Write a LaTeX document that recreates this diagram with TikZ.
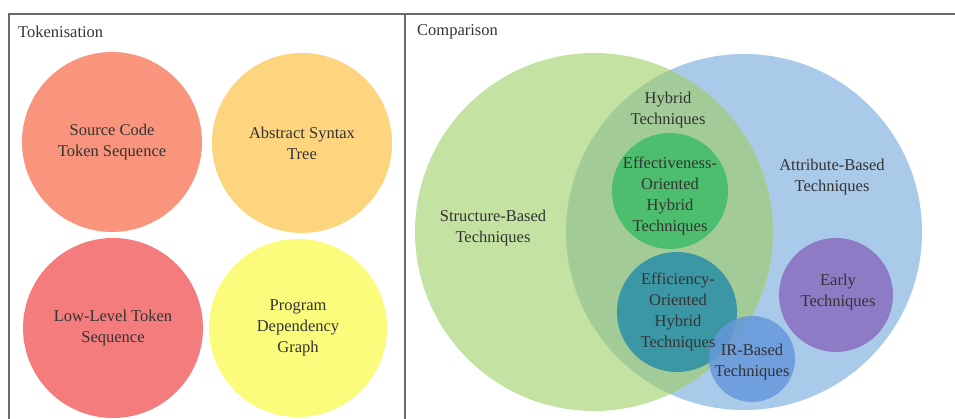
\documentclass[tikz,border=0pt]{standalone}
\usepackage{fontspec}
\setmainfont{Liberation Serif}
\newfontfamily\vennfont{Liberation Serif}
\definecolor{srcCol}{HTML}{F8957C}
\definecolor{astCol}{HTML}{FDD57E}
\definecolor{lowCol}{HTML}{F47C7C}
\definecolor{pdgCol}{HTML}{FBFB7C}
\definecolor{structCol}{HTML}{C4E2A2}
\definecolor{attrCol}{HTML}{A9CAE8}
\definecolor{hybCol}{HTML}{A2CB98}
\definecolor{effectCol}{HTML}{4CBE6E}
\definecolor{efficCol}{HTML}{3C97A5}
\definecolor{irCol}{HTML}{6698DC}
\definecolor{earlyCol}{HTML}{8E7BC6}
\definecolor{txtCol}{HTML}{333333}
\definecolor{frameCol}{HTML}{6A6A6A}
\tikzset{
  blob/.style={circle, inner sep=0pt, draw=none},
  lbl/.style={align=center, text=txtCol, inner sep=0pt,
    font=\vennfont\fontsize{16.5}{21}\selectfont},
  ttl/.style={anchor=west, text=txtCol, inner sep=0pt,
    font=\vennfont\fontsize{16.5}{20}\selectfont},
  frame/.style={draw=frameCol, line width=1.6pt}
}
\begin{document}
\begin{tikzpicture}[x=1pt,y=-1pt]
\useasboundingbox (0,0) rectangle (955,419);
% cadre
\draw[frame] (9,419) |- (955,14);
\draw[frame] (405,14) -- (405,419);
% panneau gauche
\node[ttl] (tokTitle) at (18,32) {Tokenisation};
\node[blob, fill=srcCol, minimum size=180pt] (src) at (112,142) {};
\node[blob, fill=astCol, minimum size=180pt] (ast) at (302,143) {};
\node[blob, fill=lowCol, minimum size=180pt] (low) at (113,328) {};
\node[blob, fill=pdgCol, minimum size=178pt] (pdg) at (298,328) {};
\node[lbl] (srcText) at (src) {Source Code\\Token Sequence};
\node[lbl] (astText) at (ast) {Abstract Syntax\\Tree};
\node[lbl] (lowText) at (low) {Low-Level Token\\Sequence};
\node[lbl] (pdgText) at (pdg) {Program\\Dependency\\Graph};
% panneau droit
\node[ttl] (cmpTitle) at (417,32) {Comparison};
\node[blob, fill=attrCol, minimum size=356pt] (attr) at (744,232) {};
\node[blob, fill=structCol, minimum size=358pt] (struct) at (594,232) {};
\begin{scope} % zone hybride
  \clip (594,232) circle (179);
  \fill[hybCol] (744,232) circle (178);
\end{scope}
\node[blob, fill=effectCol, minimum size=116pt] (effect) at (670,191) {};
\node[blob, fill=efficCol, minimum size=120pt] (effic) at (677,312) {};
\node[blob, fill=irCol, fill opacity=0.85, minimum size=86pt] (ir) at (752,359) {};
\node[blob, fill=earlyCol, minimum size=114pt] (early) at (836,295) {};
\node[lbl] (structText) at (493,228) {Structure-Based\\Techniques};
\node[lbl] (attrText) at (832,177) {Attribute-Based\\Techniques};
\node[lbl] (hybText) at (668,110) {Hybrid\\Techniques};
\node[lbl] (effectText) at (670,196) {Effectiveness-\\Oriented\\Hybrid\\Techniques};
\node[lbl] (efficText) at (678,312) {Efficiency-\\Oriented\\Hybrid\\Techniques};
\node[lbl] (irText) at (752,362) {IR-Based\\Techniques};
\node[lbl] (earlyText) at (838,292) {Early\\Techniques};
\end{tikzpicture}
\end{document}
